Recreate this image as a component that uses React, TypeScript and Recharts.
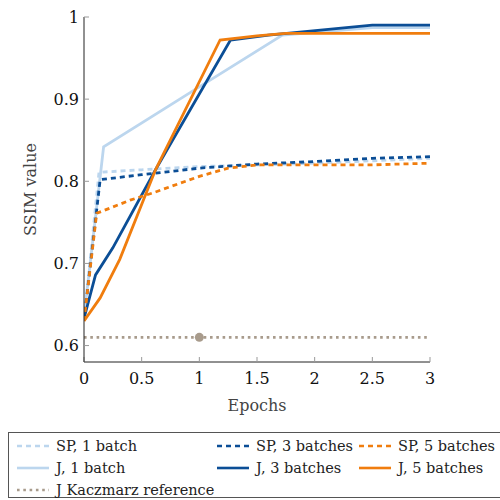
import { ComposedChart, Line, Scatter, XAxis, YAxis } from "recharts";

// SSIM per epoch
const spOneBatch = [
  { epoch: 0, ssim: 0.63 },
  { epoch: 0.13, ssim: 0.811 },
  { epoch: 0.5, ssim: 0.814 },
  { epoch: 1, ssim: 0.818 },
  { epoch: 1.5, ssim: 0.82 },
  { epoch: 2, ssim: 0.822 },
  { epoch: 2.5, ssim: 0.825 },
  { epoch: 3, ssim: 0.828 },
];
const spThreeBatches = [
  { epoch: 0, ssim: 0.63 },
  { epoch: 0.14, ssim: 0.802 },
  { epoch: 0.5, ssim: 0.808 },
  { epoch: 1, ssim: 0.816 },
  { epoch: 1.5, ssim: 0.821 },
  { epoch: 2, ssim: 0.824 },
  { epoch: 2.5, ssim: 0.828 },
  { epoch: 3, ssim: 0.83 },
];
const spFiveBatches = [
  { epoch: 0, ssim: 0.63 },
  { epoch: 0.11, ssim: 0.761 },
  { epoch: 0.4, ssim: 0.777 },
  { epoch: 0.6, ssim: 0.786 },
  { epoch: 1, ssim: 0.806 },
  { epoch: 1.25, ssim: 0.816 },
  { epoch: 1.5, ssim: 0.82 },
  { epoch: 2, ssim: 0.82 },
  { epoch: 2.5, ssim: 0.82 },
  { epoch: 3, ssim: 0.822 },
];
const jOneBatch = [
  { epoch: 0, ssim: 0.635 },
  { epoch: 0.17, ssim: 0.842 },
  { epoch: 1, ssim: 0.915 },
  { epoch: 1.72, ssim: 0.978 },
  { epoch: 2.5, ssim: 0.987 },
  { epoch: 3, ssim: 0.987 },
];
const jThreeBatches = [
  { epoch: 0, ssim: 0.633 },
  { epoch: 0.1, ssim: 0.686 },
  { epoch: 0.25, ssim: 0.719 },
  { epoch: 0.62, ssim: 0.814 },
  { epoch: 1.27, ssim: 0.972 },
  { epoch: 1.6, ssim: 0.978 },
  { epoch: 2.5, ssim: 0.99 },
  { epoch: 3, ssim: 0.99 },
];
const jFiveBatches = [
  { epoch: 0, ssim: 0.63 },
  { epoch: 0.14, ssim: 0.658 },
  { epoch: 0.31, ssim: 0.705 },
  { epoch: 0.62, ssim: 0.814 },
  { epoch: 1.18, ssim: 0.972 },
  { epoch: 1.5, ssim: 0.977 },
  { epoch: 1.75, ssim: 0.98 },
  { epoch: 3, ssim: 0.98 },
];
const kaczmarz = [
  { epoch: 0, ssim: 0.61 },
  { epoch: 3, ssim: 0.61 },
];
const kaczmarzMarker = [{ epoch: 1, ssim: 0.61 }];

const xTicks = [0, 0.5, 1, 1.5, 2, 2.5, 3];
const yTicks = [0.6, 0.7, 0.8, 0.9, 1];

const LIGHT = "#bcd6ee";
const BLUE = "#0b4e96";
const ORANGE = "#f07d0e";
const GRAY = "#a89b8c";

const series = [
  { name: "SP, 1 batch", data: spOneBatch, color: LIGHT, dash: "5 4" },
  { name: "SP, 3 batches", data: spThreeBatches, color: BLUE, dash: "5 4" },
  { name: "SP, 5 batches", data: spFiveBatches, color: ORANGE, dash: "5 4" },
  { name: "J, 1 batch", data: jOneBatch, color: LIGHT, dash: undefined },
  { name: "J, 3 batches", data: jThreeBatches, color: BLUE, dash: undefined },
  { name: "J, 5 batches", data: jFiveBatches, color: ORANGE, dash: undefined },
  { name: "J Kaczmarz reference", data: kaczmarz, color: GRAY, dash: "2.6 3.7" },
];

const FONT = "DejaVu Serif";
const fmtY = (v: number) => (v === 1 ? "1" : v.toFixed(1));
const blank = () => "";

// same order as the source plot: SP1, J1, SP3, J3, SP5, J5, reference
const drawOrder = [0, 3, 1, 4, 2, 5, 6];

export default function App() {
  return (
    <div style={{ position: "absolute", left: 0, top: 0, width: 500, height: 500, background: "#fff", fontFamily: FONT }}>
      <ComposedChart
        width={500}
        height={430}
        margin={{ top: 17, right: 70, bottom: 18, left: 0 }}
      >
        <XAxis
          xAxisId="b"
          type="number"
          dataKey="epoch"
          domain={[0, 3]}
          ticks={xTicks}
          height={50}
          tickSize={-5}
          tickMargin={16}
          stroke="#222"
          tickLine={{ stroke: "#999" }}
          tick={{ fill: "#111", fontSize: 16, fontFamily: FONT }}
          allowDataOverflow
          label={{ value: "Epochs", position: "center", dy: 18, fill: "#444", fontSize: 16, fontFamily: FONT }}
        />
        <XAxis
          xAxisId="t"
          orientation="top"
          type="number"
          dataKey="epoch"
          domain={[0, 3]}
          ticks={xTicks}
          height={0}
          mirror
          tickSize={5}
          stroke="#222"
          tickLine={{ stroke: "#999" }}
          tickFormatter={blank}
        />
        <YAxis
          yAxisId="l"
          type="number"
          domain={[0.58, 1]}
          ticks={yTicks}
          width={84}
          tickSize={-5}
          tickMargin={10}
          stroke="#222"
          tickLine={{ stroke: "#999" }}
          tickFormatter={fmtY}
          tick={{ fill: "#111", fontSize: 16, fontFamily: FONT }}
          allowDataOverflow
          label={{ value: "SSIM value", angle: -90, position: "center", dx: -12, fill: "#444", fontSize: 16, fontFamily: FONT }}
        />
        <YAxis
          yAxisId="r"
          orientation="right"
          type="number"
          domain={[0.58, 1]}
          ticks={yTicks}
          width={0}
          mirror
          tickSize={5}
          stroke="#222"
          tickLine={{ stroke: "#999" }}
          tickFormatter={blank}
        />
        {drawOrder.map((i) => {
          const s = series[i];
          return (
            <Line
              key={s.name}
              xAxisId="b"
              yAxisId="l"
              data={s.data}
              dataKey="ssim"
              type="linear"
              stroke={s.color}
              strokeWidth={2.8}
              strokeDasharray={s.dash}
              dot={false}
              activeDot={false}
              isAnimationActive={false}
            />
          );
        })}
        <Scatter
          xAxisId="b"
          yAxisId="l"
          data={kaczmarzMarker}
          dataKey="ssim"
          fill={GRAY}
          shape={(p: any) => <circle cx={p.cx} cy={p.cy} r={4.5} fill={GRAY} />}
          isAnimationActive={false}
        />
      </ComposedChart>
      <div
        style={{
          position: "absolute",
          left: 8,
          top: 432,
          width: 500,
          height: 66,
          border: "1px solid #555",
          boxSizing: "border-box",
          fontSize: 14.5,
          color: "#222",
        }}
      >
        {series.map((s, i) => {
          const col = i === 6 ? 0 : i % 3;
          const row = i === 6 ? 2 : Math.floor(i / 3);
          const lefts = [8, 208, 350];
          return (
            <div
              key={s.name}
              style={{
                position: "absolute",
                left: lefts[col],
                top: 3 + row * 22,
                height: 20,
                display: "flex",
                alignItems: "center",
                whiteSpace: "nowrap",
              }}
            >
              <svg width={32} height={6} style={{ marginRight: 7 }}>
                <line x1={0} y1={3} x2={32} y2={3} stroke={s.color} strokeWidth={2.6} strokeDasharray={s.dash} />
              </svg>
              {s.name}
            </div>
          );
        })}
      </div>
    </div>
  );
}
